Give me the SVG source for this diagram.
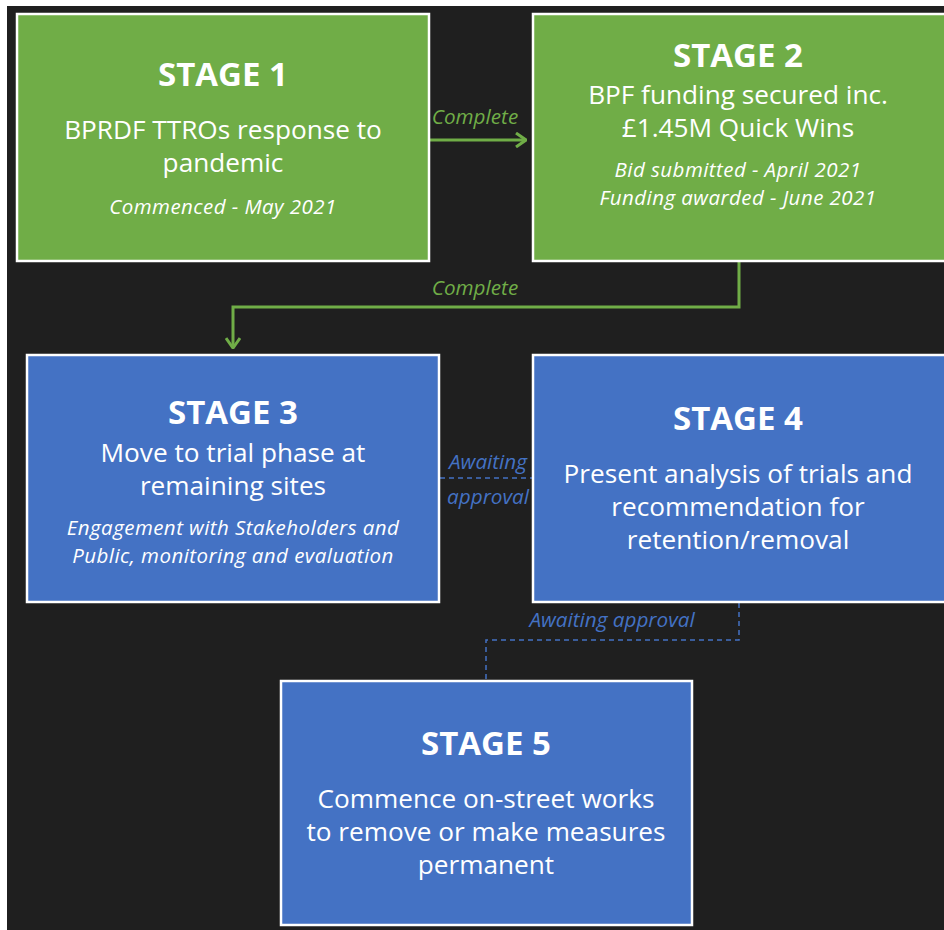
<svg xmlns="http://www.w3.org/2000/svg" width="944" height="930" viewBox="0 0 944 930">
<defs>
<style>
.bg{fill:#1f1f1f}
.g{fill:#70ad47;stroke:#ffffff;stroke-width:2.5}
.b{fill:#4472c4;stroke:#ffffff;stroke-width:2.5}
text{font-family:"Open Sans","Noto Sans",sans-serif;fill:#ffffff;text-anchor:middle}
.h{font-weight:700;font-size:33px}
.t{font-size:26.2px}
.i{font-style:italic;font-size:20.5px;letter-spacing:0.45px}
.lg{font-style:italic;font-size:20.7px;fill:#70ad47}
.lb{font-style:italic;font-size:20.7px;fill:#4472c4}
.cg{fill:none;stroke:#70ad47;stroke-width:3}
.cb{fill:none;stroke:#4472c4;stroke-width:1.5;stroke-dasharray:5 4}
</style>
<marker id="ag" viewBox="0 0 12 16" refX="11" refY="8" markerWidth="12" markerHeight="16" markerUnits="userSpaceOnUse" orient="auto">
<path d="M1,1 L11,8 L1,15" fill="none" stroke="#70ad47" stroke-width="3"/>
</marker>
</defs>
<rect x="0" y="0" width="944" height="930" fill="#ffffff"/>
<rect class="bg" x="7" y="6" width="937" height="924"/>
<g id="connectors">
<line class="cg" x1="430" y1="140" x2="526" y2="140" marker-end="url(#ag)"/>
<text class="lg" x="475" y="124">Complete</text>
<polyline class="cg" points="739,262 739,307 233,307 233,348" marker-end="url(#ag)"/>
<text class="lg" x="475" y="295">Complete</text>
<line class="cb" x1="440" y1="478" x2="532" y2="478"/>
<text class="lb" x="488" y="469">Awaiting</text>
<text class="lb" x="488" y="504">approval</text>
<polyline class="cb" points="739,603 739,640 486,640 486,679"/>
<text class="lb" x="612" y="627">Awaiting approval</text>
</g>
<g id="stage1">
<rect class="g" x="17" y="14" width="412" height="247"/>
<text class="h" x="223" y="86">STAGE 1</text>
<text class="t" x="223" y="139">BPRDF TTROs response to</text>
<text class="t" x="223" y="172">pandemic</text>
<text class="i" x="223" y="214">Commenced - May 2021</text>
</g>
<g id="stage2">
<rect class="g" x="533" y="14" width="420" height="247"/>
<text class="h" x="738" y="67">STAGE 2</text>
<text class="t" x="738" y="104">BPF funding secured inc.</text>
<text class="t" x="738" y="137">£1.45M Quick Wins</text>
<text class="i" x="738" y="177">Bid submitted - April 2021</text>
<text class="i" x="738" y="205">Funding awarded - June 2021</text>
</g>
<g id="stage3">
<rect class="b" x="27" y="355" width="412" height="247"/>
<text class="h" x="233" y="424">STAGE 3</text>
<text class="t" x="233" y="462">Move to trial phase at</text>
<text class="t" x="233" y="495">remaining sites</text>
<text class="i" x="233" y="535">Engagement with Stakeholders and</text>
<text class="i" x="233" y="563">Public, monitoring and evaluation</text>
</g>
<g id="stage4">
<rect class="b" x="533" y="355" width="420" height="247"/>
<text class="h" x="738" y="430">STAGE 4</text>
<text class="t" x="738" y="483">Present analysis of trials and</text>
<text class="t" x="738" y="516">recommendation for</text>
<text class="t" x="738" y="549">retention/removal</text>
</g>
<g id="stage5">
<rect class="b" x="281" y="681" width="411" height="244"/>
<text class="h" x="486" y="755">STAGE 5</text>
<text class="t" x="486" y="808">Commence on-street works</text>
<text class="t" x="486" y="841">to remove or make measures</text>
<text class="t" x="486" y="874">permanent</text>
</g>
</svg>
